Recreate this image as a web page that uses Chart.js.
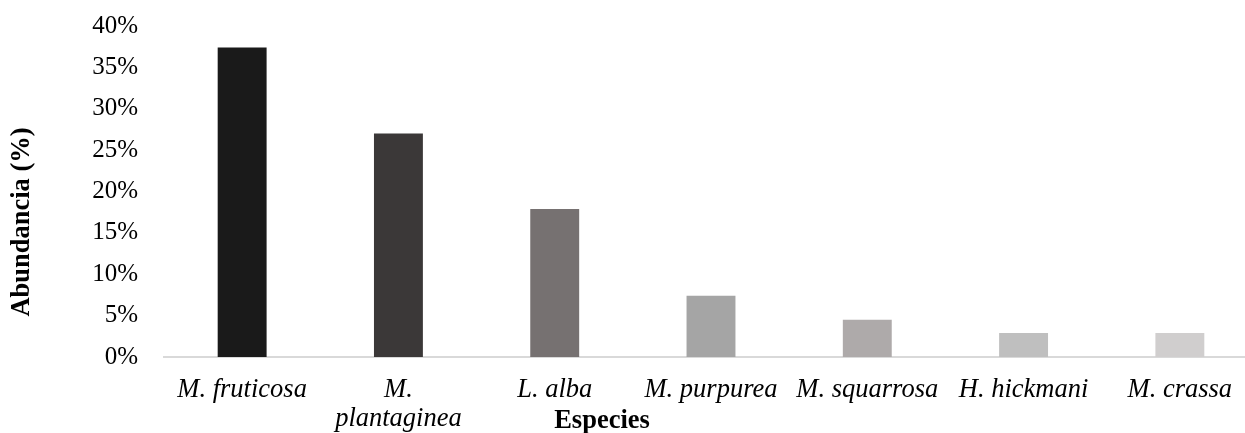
<!DOCTYPE html>
<html>
<head>
<meta charset="utf-8">
<script src="https://cdn.jsdelivr.net/npm/chart.js@4/dist/chart.umd.min.js"></script>
<style>
  html, body { margin: 0; padding: 0; background: #fff; overflow: hidden; }
  #wrap { position: relative; width: 1262px; height: 433px; }
</style>
</head>
<body>
<div id="wrap"><canvas id="chart"></canvas></div>
<script>
// species and abundance (%)
const species = ['M. fruticosa', ['M.', 'plantaginea'], 'L. alba', 'M. purpurea', 'M. squarrosa', 'H. hickmani', 'M. crassa'];
const abundance = [37.4, 27.0, 17.9, 7.4, 4.5, 2.9, 2.9];
const barColors = ['#1a1a1a', '#3b3838', '#767171', '#a5a5a5', '#aeaaaa', '#bfbfbf', '#d0cece'];
const yTicks = [0, 5, 10, 15, 20, 25, 30, 35, 40];

const serif = "'Liberation Serif', 'Times New Roman', serif";

// both axis titles sit off-centre in the original, so draw them by hand
const axisTitles = {
    id: 'axisTitles',
    afterDraw(chart) {
        const c = chart.ctx;
        c.save();
        c.font = 'bold 26.5px ' + serif;
        c.fillStyle = '#000';
        c.textAlign = 'center';
        c.textBaseline = 'alphabetic';
        c.fillText('Especies', 602, 428);
        c.translate(22, 222);
        c.rotate(-Math.PI / 2);
        c.textBaseline = 'middle';
        c.fillText('Abundancia (%)', 0, 0);
        c.restore();
    }
};

new Chart(document.getElementById('chart'), {
    type: 'bar',
    data: {
        labels: species,
        datasets: [{
            data: abundance,
            backgroundColor: barColors,
            borderWidth: 0,
            categoryPercentage: 1,
            barPercentage: 0.313
        }]
    },
    options: {
        responsive: true,
        maintainAspectRatio: false,
        animation: false,
        layout: { padding: { left: 6, top: 26, right: 4, bottom: 0 } },
        plugins: { legend: { display: false }, tooltip: { enabled: false } },
        scales: {
            x: {
                afterFit: s => { s.height = 76; },
                grid: { display: false },
                border: { display: true, color: '#d9d9d9', width: 2 },
                ticks: {
                    color: '#000',
                    maxRotation: 0,
                    autoSkip: false,
                    padding: 11,
                    font: { family: serif, size: 26.5, style: 'italic', lineHeight: 1.07 }
                }
            },
            y: {
                min: 0,
                max: 40,
                afterBuildTicks: s => { s.ticks = yTicks.map(v => ({ value: v })); },
                afterFit: s => { s.width = 158; s.paddingTop = 0; },
                grid: { display: false },
                border: { display: false },
                ticks: {
                    color: '#000',
                    padding: 18,
                    callback: v => v + '%',
                    font: { family: serif, size: 25 }
                }
            }
        }
    },
    plugins: [axisTitles]
});
</script>
</body>
</html>
